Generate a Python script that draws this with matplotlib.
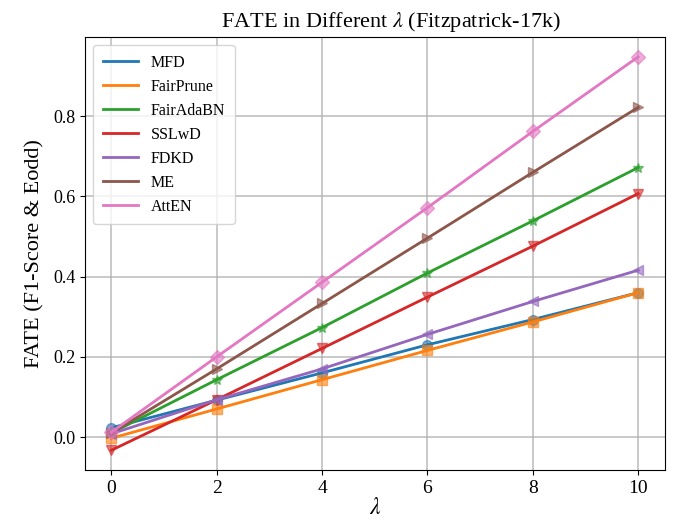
import numpy as np
import matplotlib
matplotlib.use('Agg')
import matplotlib.pyplot as plt

plt.rcParams['font.family'] = ['Liberation Serif', 'DejaVu Serif']
plt.rcParams['mathtext.fontset'] = 'stix'

# lambda values
lambdas = [0, 2, 4, 6, 8, 10]

# FATE values
mfd       = [0.023, 0.092, 0.160, 0.230, 0.293, 0.360]
fairprune = [-0.003, 0.070, 0.143, 0.216, 0.287, 0.360]
fairadabn = [0.010, 0.143, 0.273, 0.409, 0.539, 0.672]
sslwd     = [-0.033, 0.093, 0.221, 0.349, 0.476, 0.607]
fdkd      = [0.008, 0.093, 0.170, 0.256, 0.338, 0.416]
me        = [0.010, 0.170, 0.333, 0.496, 0.660, 0.822]
atten     = [0.012, 0.200, 0.386, 0.572, 0.762, 0.948]

methods = ['MFD', 'FairPrune', 'FairAdaBN', 'SSLwD', 'FDKD', 'ME', 'AttEN']
series = [mfd, fairprune, fairadabn, sslwd, fdkd, me, atten]
markers = ['o', 's', '*', 'v', '<', '>', 'D']

fig = plt.figure(figsize=(6.77, 5.31), dpi=100)
ax = fig.add_axes([0.1256, 0.115, 0.856, 0.815])

colors = plt.cm.tab10.colors
for i, (name, vals, mk) in enumerate(zip(methods, series, markers)):
    ax.plot(lambdas, vals, color=colors[i], linewidth=2, label=name, zorder=3)
    ax.plot(lambdas, vals, linestyle='none', marker=mk, markersize=7,
            color=colors[i], alpha=0.6, zorder=3)

# title sits slightly right of the axes centre in the reference
fig.text(0.578, 0.949, r'FATE in Different $\lambda$ (Fitzpatrick-17k)',
         fontsize=16, ha='center', va='baseline')
ax.set_xlabel(r'$\lambda$', fontsize=17, labelpad=1)
ax.set_ylabel('FATE (F1-Score & Eodd)', fontsize=16, labelpad=6)
ax.set_xticks(lambdas)
ax.tick_params(axis='x', labelsize=14)
ax.tick_params(axis='y', labelsize=13)
ax.grid(True, color='#b0b0b0', linewidth=1.2, alpha=0.8)
ax.set_axisbelow(True)
ax.legend(loc='upper left', fontsize=11.5, handlelength=2.2, borderpad=0.6,
          labelspacing=0.5)

fig.savefig('out.png', dpi=100)
